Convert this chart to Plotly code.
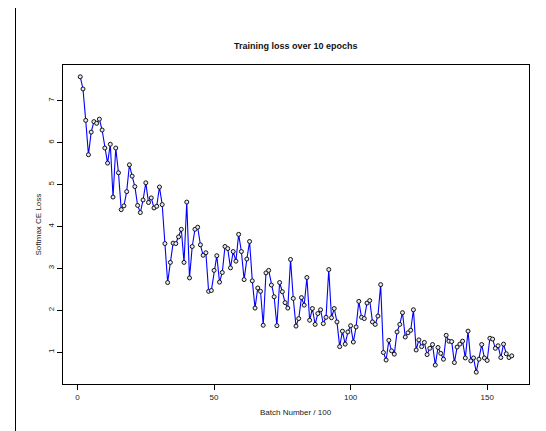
import plotly.graph_objects as go

batch = list(range(1, 160))
loss = [
    7.57, 7.28, 6.53, 5.71, 6.25, 6.50, 6.46, 6.56, 6.30, 5.87,
    5.51, 5.96, 4.70, 5.87, 5.28, 4.40, 4.49, 4.83, 5.47, 5.20,
    4.95, 4.50, 4.33, 4.63, 5.04, 4.57, 4.68, 4.44, 4.48, 4.94,
    4.52, 3.59, 2.66, 3.14, 3.60, 3.59, 3.75, 3.93, 3.14, 4.58,
    2.77, 3.52, 3.93, 3.98, 3.56, 3.31, 3.37, 2.45, 2.47, 2.95,
    3.30, 2.67, 2.90, 3.52, 3.47, 3.01, 3.40, 3.17, 3.81, 3.40,
    2.73, 3.22, 3.64, 2.70, 2.05, 2.53, 2.45, 1.64, 2.89, 2.95,
    2.60, 2.32, 1.63, 2.66, 2.44, 2.18, 2.05, 3.21, 2.28, 1.62,
    1.80, 2.30, 2.12, 2.78, 1.76, 2.04, 1.66, 1.92, 2.01, 1.68,
    1.83, 2.97, 1.82, 2.04, 1.72, 1.13, 1.50, 1.19, 1.48, 1.63,
    1.24, 1.60, 2.21, 1.83, 1.80, 2.17, 2.23, 1.72, 1.66, 1.86,
    2.61, 0.99, 0.81, 1.28, 1.03, 0.95, 1.48, 1.66, 1.94, 1.36,
    1.46, 1.52, 2.01, 1.05, 1.29, 1.13, 1.23, 0.94, 1.09, 1.18,
    0.69, 1.11, 0.97, 0.83, 1.40, 1.26, 1.25, 0.75, 1.12, 1.19,
    1.26, 0.86, 1.50, 0.79, 0.86, 0.52, 0.83, 1.18, 0.86, 0.80,
    1.33, 1.31, 1.09, 1.15, 0.87, 1.19, 0.96, 0.87, 0.91,
]
x_ticks = [0, 50, 100, 150]
y_ticks = [1, 2, 3, 4, 5, 6, 7]

title_text = "Training loss over 10 epochs"
x_title = "Batch Number / 100"
y_title = "Softmax CE Loss"

W, H = 546, 431
L, R, T, B = 55, 25, 57, 55
PW, PH = W - L - R, H - T - B

def pad(lo, hi, f=0.04):
    s = hi - lo
    return [lo - f * s, hi + f * s]

FONT = "Liberation Sans, Arial, Helvetica, sans-serif"

fig = go.Figure()
fig.add_trace(go.Scatter(
    x=batch, y=loss, mode="lines+markers",
    line=dict(color="#0000ff", width=1.1),
    marker=dict(symbol="circle", size=4, color="#e8e8f4",
                line=dict(color="#111111", width=1)),
    showlegend=False, hoverinfo="skip",
))

axis_common = dict(
    showline=True, linecolor="black", linewidth=1, mirror=True,
    ticks="outside", ticklen=5, tickwidth=1, tickcolor="black",
    showgrid=False, zeroline=False,
    tickfont=dict(family=FONT, size=8, color="#222"),
)
fig.update_xaxes(range=pad(min(batch), max(batch)), tickvals=x_ticks, **axis_common)
fig.update_yaxes(range=pad(min(loss), max(loss)), tickvals=y_ticks, tickangle=-90, **axis_common)

fig.add_annotation(text="<b>" + title_text + "</b>", xref="paper", yref="paper",
                   x=0.5, y=1 + (T - 38) / PH, showarrow=False,
                   font=dict(family=FONT, size=9, color="#111"), yanchor="middle")
fig.add_annotation(text=x_title, xref="paper", yref="paper",
                   x=0.5, y=-(404 - (H - B)) / PH, showarrow=False,
                   font=dict(family=FONT, size=8, color="#222"), yanchor="middle")
fig.add_annotation(text=y_title, xref="paper", yref="paper",
                   x=-(L - 30) / PW, y=0.5, showarrow=False, textangle=-90,
                   font=dict(family=FONT, size=8, color="#222"), xanchor="center")

# left border line of the image frame
fig.add_shape(type="line", xref="paper", yref="paper",
              x0=-(L - 7.5) / PW, x1=-(L - 7.5) / PW,
              y0=-B / PH, y1=1 + T / PH,
              line=dict(color="black", width=1))

fig.update_layout(
    width=W, height=H,
    margin=dict(l=L, r=R, t=T, b=B, pad=0),
    plot_bgcolor="white", paper_bgcolor="white",
)

fig.write_html("out.html")
